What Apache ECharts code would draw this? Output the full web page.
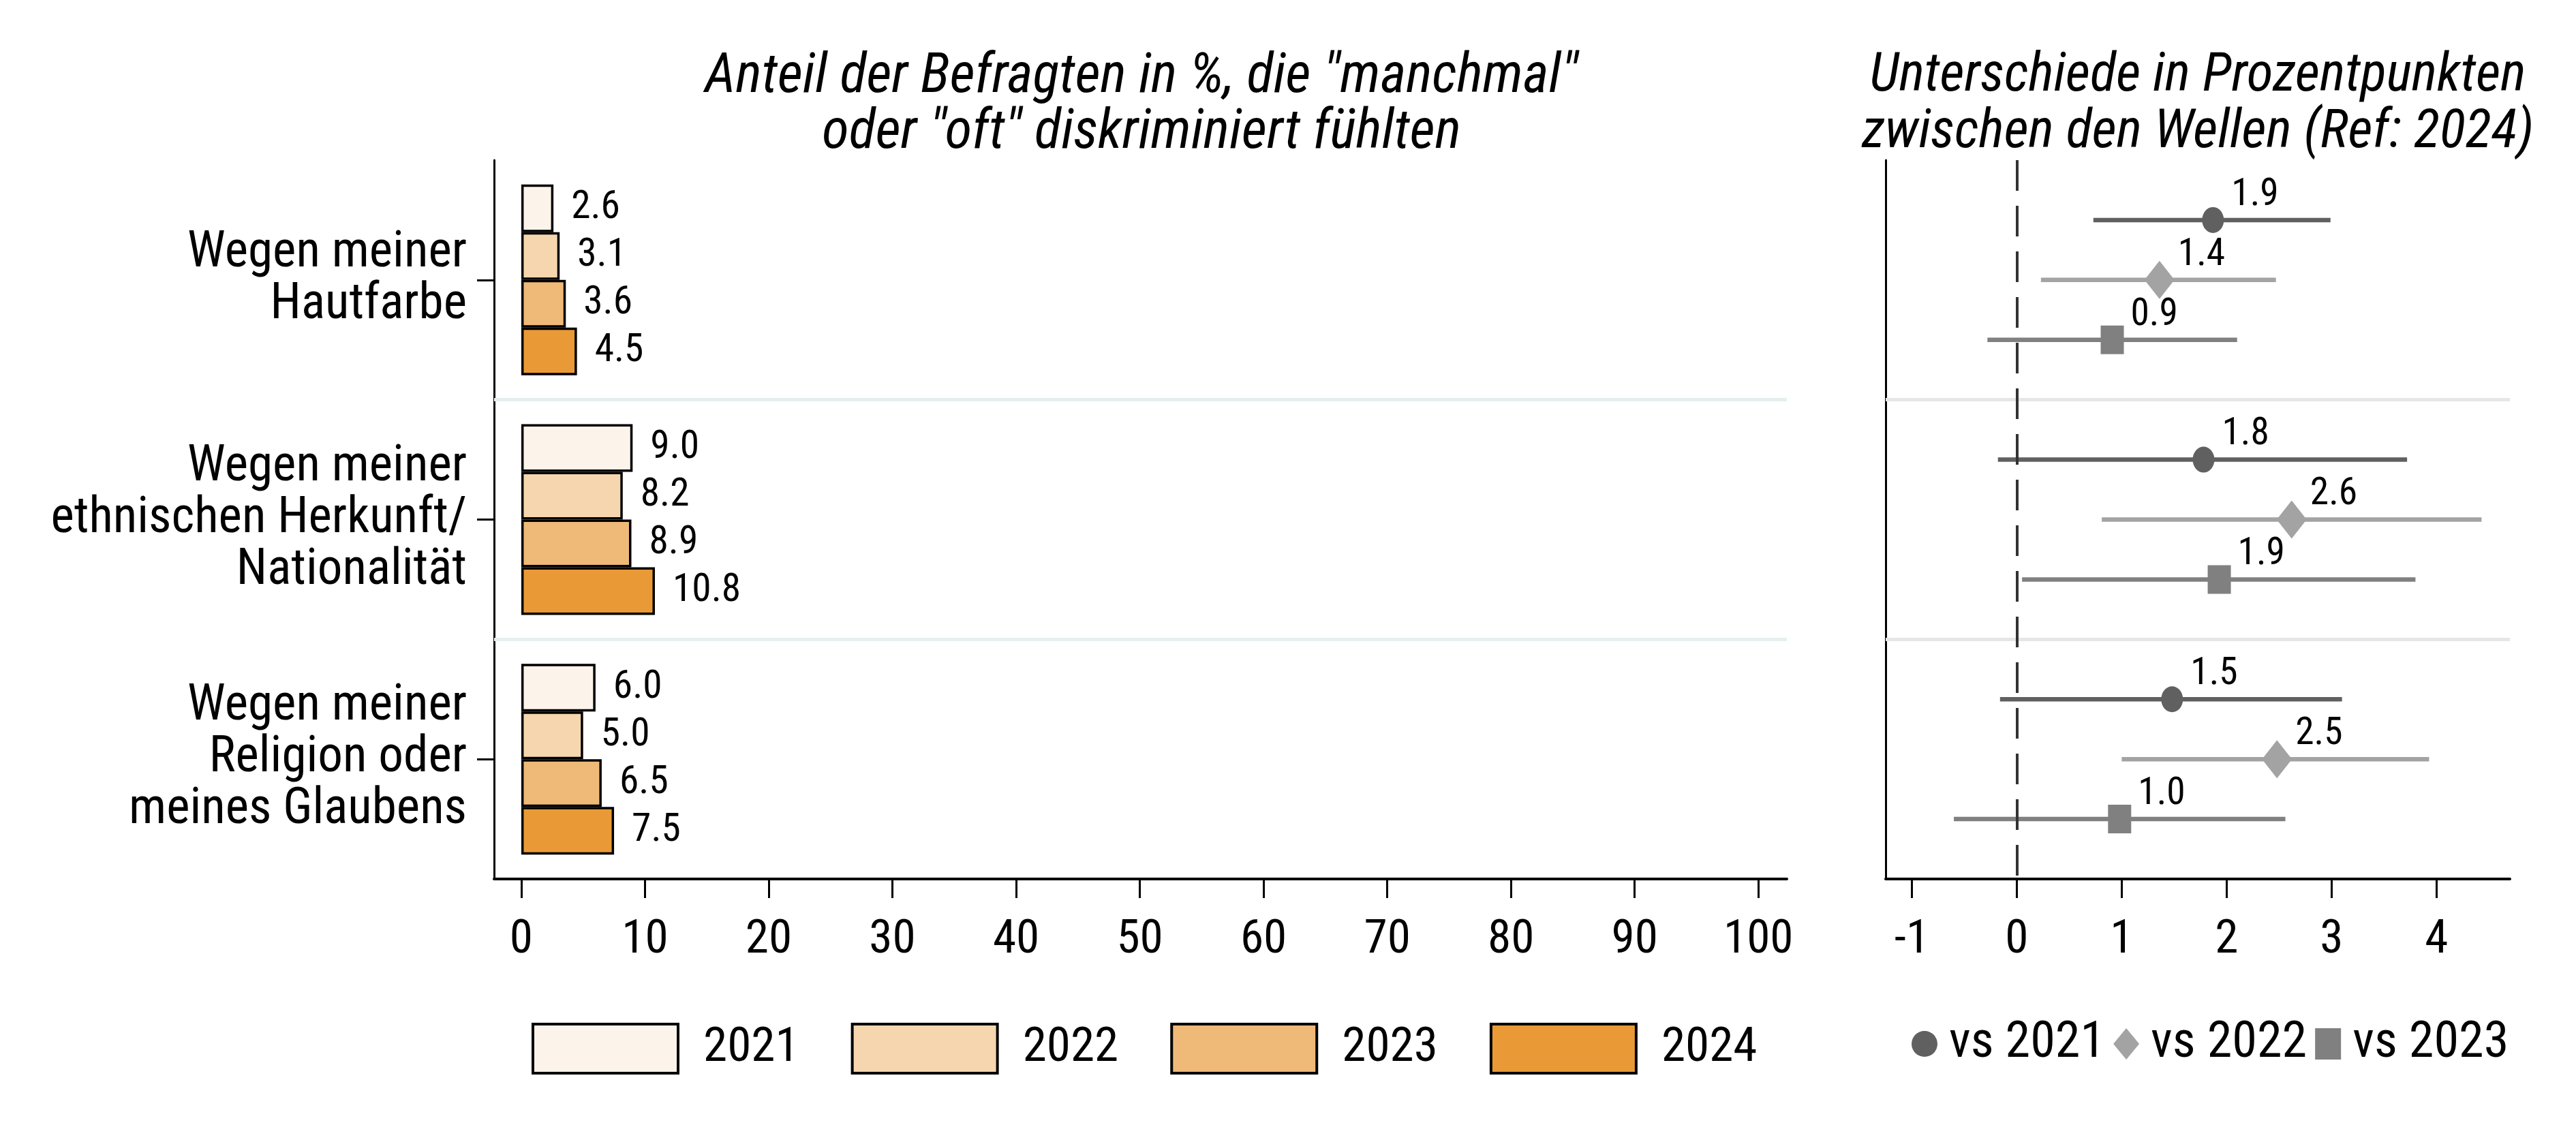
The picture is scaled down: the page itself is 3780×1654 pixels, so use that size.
<!DOCTYPE html>
<html><head><meta charset="utf-8">
<script src="https://cdn.jsdelivr.net/npm/echarts@6/dist/echarts.min.js"></script>
<style>html,body{margin:0;padding:0;background:#fff}#c{width:3780px;height:1654px}</style>
</head><body><div id="c"></div>
<script>
// ---------- data ----------
const categories = ['Wegen meiner\nHautfarbe', 'Wegen meiner\nethnischen Herkunft/\nNationalität', 'Wegen meiner\nReligion oder\nmeines Glaubens'];
const years = ['2021', '2022', '2023', '2024'];
const share2021 = [2.6, 9.0, 6.0];
const share2022 = [3.1, 8.2, 5.0];
const share2023 = [3.6, 8.9, 6.5];
const share2024 = [4.5, 10.8, 7.5];
const shareTicks = [0, 10, 20, 30, 40, 50, 60, 70, 80, 90, 100];

const comparisons = ['vs 2021', 'vs 2022', 'vs 2023'];
const diffVs2021 = [1.87, 1.78, 1.48];
const lowVs2021 = [0.73, -0.18, -0.16];
const highVs2021 = [2.99, 3.72, 3.10];
const diffVs2022 = [1.36, 2.62, 2.48];
const lowVs2022 = [0.23, 0.81, 1.00];
const highVs2022 = [2.47, 4.43, 3.93];
const diffVs2023 = [0.91, 1.93, 0.98];
const lowVs2023 = [-0.28, 0.05, -0.60];
const highVs2023 = [2.10, 3.80, 2.56];
const diffTicks = [-1, 0, 1, 2, 3, 4];

const titleLeft = 'Anteil der Befragten in %, die "manchmal"\noder "oft" diskriminiert fühlten';
const titleRight = 'Unterschiede in Prozentpunkten\nzwischen den Wellen (Ref: 2024)';

// ---------- font ----------
const FF = "'Roboto Condensed', 'Liberation Sans Narrow', 'Liberation Sans', sans-serif";
const ctx = document.createElement('canvas').getContext('2d');
ctx.font = '74px ' + FF;
const K = Math.min(1.05, Math.max(0.8, 410 / ctx.measureText('Wegen meiner').width));

// ---------- styles ----------
const barColors = ['#fcf4ea', '#f6d6ae', '#efb977', '#e99a36'];
const grays = ['#606060', '#a3a3a3', '#808080'];
const symbols = ['circle', 'diamond', 'rect'];
const symSizes = [[32, 38], [44, 56], [34, 42]];

const shares = [share2021, share2022, share2023, share2024];
const diffs = [diffVs2021, diffVs2022, diffVs2023];
const lows = [lowVs2021, lowVs2022, lowVs2023];
const highs = [highVs2021, highVs2022, highVs2023];

const axisLineStyle = { color: '#000', width: 4 };
const tickStyle = { color: '#000', width: 3 };
const tickLabel = { fontFamily: FF, fontSize: 70 * K, color: '#000' };

const series = [];
series.push({
  type: 'line', xAxisIndex: 0, yAxisIndex: 1, data: [], silent: true, z: 1,
  markLine: { symbol: 'none', silent: true, animation: false, label: { show: false },
    lineStyle: { color: '#e7eef0', width: 5, type: 'solid' },
    data: [{ yAxis: 1 }, { yAxis: 2 }] }
});
years.forEach((y, i) => {
  series.push({
    type: 'bar', name: y, xAxisIndex: 0, yAxisIndex: 0, data: shares[i],
    barWidth: 70, barGap: '0%', z: 3,
    itemStyle: { color: barColors[i], borderColor: '#000', borderWidth: 3.5 },
    label: { show: true, position: 'right', distance: 26, formatter: p => Number(p.value).toFixed(1),
      fontFamily: FF, fontSize: 58 * K, color: '#000' }
  });
});
series.push({
  type: 'line', xAxisIndex: 1, yAxisIndex: 2, data: [], silent: true, z: 1,
  markLine: { symbol: 'none', silent: true, animation: false, label: { show: false },
    data: [
      { yAxis: 1, lineStyle: { color: '#e6e6e6', width: 5, type: 'solid' } },
      { yAxis: 2, lineStyle: { color: '#e6e6e6', width: 5, type: 'solid' } },
      { xAxis: 0, lineStyle: { color: '#333333', width: 4, type: [45, 22] } }
    ] }
});
comparisons.forEach((name, k) => {
  series.push({
    type: 'custom', name: 'KI ' + name, xAxisIndex: 1, yAxisIndex: 2, z: 4, silent: true,
    data: lows[k].map((lo, i) => [lo, highs[k][i], i + 0.25 * (k + 1)]),
    encode: { x: [0, 1], y: 2 },
    renderItem: (params, api) => {
      const a = api.coord([api.value(0), api.value(2)]);
      const b = api.coord([api.value(1), api.value(2)]);
      return { type: 'line', shape: { x1: a[0], y1: a[1], x2: b[0], y2: b[1] },
        style: { stroke: grays[k], lineWidth: 6.5 } };
    }
  });
});
comparisons.forEach((name, k) => {
  series.push({
    type: 'scatter', name, xAxisIndex: 1, yAxisIndex: 2, z: 5,
    symbol: symbols[k], symbolSize: symSizes[k],
    itemStyle: { color: grays[k], opacity: 1 },
    data: diffs[k].map((v, i) => [v, i + 0.25 * (k + 1)]),
    label: { show: true, position: 'inside', align: 'left', verticalAlign: 'middle', offset: [27, -36],
      formatter: p => p.value[0].toFixed(1), fontFamily: FF, fontSize: 56 * K, color: '#000' }
  });
});

const option = {
  animation: false,
  backgroundColor: '#fff',
  title: [
    { text: titleLeft, left: 1675, top: 74, textAlign: 'center', padding: 0,
      textStyle: { fontFamily: FF, fontStyle: 'italic', fontWeight: 'normal', fontSize: 82 * K, lineHeight: 82, color: '#000' } },
    { text: titleRight, left: 3225, top: 72, textAlign: 'center', padding: 0,
      textStyle: { fontFamily: FF, fontStyle: 'italic', fontWeight: 'normal', fontSize: 80 * K, lineHeight: 83, color: '#000' } }
  ],
  grid: [
    { left: 725, top: 235, width: 1897, height: 1055 },
    { left: 2767, top: 235, width: 916, height: 1055 }
  ],
  xAxis: [
    { gridIndex: 0, type: 'value', min: -2.2, max: 102.3, position: 'bottom',
      axisLine: { show: true, onZero: false, lineStyle: axisLineStyle },
      axisTick: { show: true, length: 28, lineStyle: tickStyle, customValues: shareTicks },
      axisLabel: Object.assign({ show: true, margin: 56, customValues: shareTicks }, tickLabel),
      splitLine: { show: false } },
    { gridIndex: 1, type: 'value', min: -1.25, max: 4.7, position: 'bottom',
      axisLine: { show: true, onZero: false, lineStyle: axisLineStyle },
      axisTick: { show: true, length: 28, lineStyle: tickStyle, customValues: diffTicks },
      axisLabel: Object.assign({ show: true, margin: 56, customValues: diffTicks }, tickLabel),
      splitLine: { show: false } }
  ],
  yAxis: [
    { gridIndex: 0, type: 'category', data: categories, inverse: true,
      axisLine: { show: true, onZero: false, lineStyle: { color: '#000', width: 3 } },
      axisTick: { show: true, length: 25, alignWithLabel: true, lineStyle: tickStyle },
      axisLabel: { margin: 40, fontFamily: FF, fontSize: 74 * K, lineHeight: 76, color: '#000', align: 'right' },
      splitLine: { show: false } },
    { gridIndex: 0, type: 'value', min: 0, max: 3, inverse: true, show: false },
    { gridIndex: 1, type: 'value', min: 0, max: 3, inverse: true,
      axisLine: { show: true, onZero: false, lineStyle: { color: '#000', width: 3 } },
      axisTick: { show: false }, axisLabel: { show: false }, splitLine: { show: false } }
  ],
  legend: [
    { data: years, left: 775, top: 1496, orient: 'horizontal', itemWidth: 213, itemHeight: 72, itemGap: 76,
      icon: 'rect',
      itemStyle: { borderColor: '#000', borderWidth: 4 },
      textStyle: { fontFamily: FF, fontSize: 72 * K, color: '#000', padding: [0, 0, 0, 32] }, selectedMode: false },
    { data: comparisons, left: 2800, top: 1490, orient: 'horizontal', itemWidth: 38, itemHeight: 46, itemGap: 12,
      symbolKeepAspect: false,
      textStyle: { fontFamily: FF, fontSize: 75 * K, color: '#000', padding: [0, 0, 0, 12] }, selectedMode: false }
  ],
  series
};
const chart = echarts.init(document.getElementById('c'), null, { renderer: 'canvas' });
chart.setOption(option);
</script>
</body></html>
